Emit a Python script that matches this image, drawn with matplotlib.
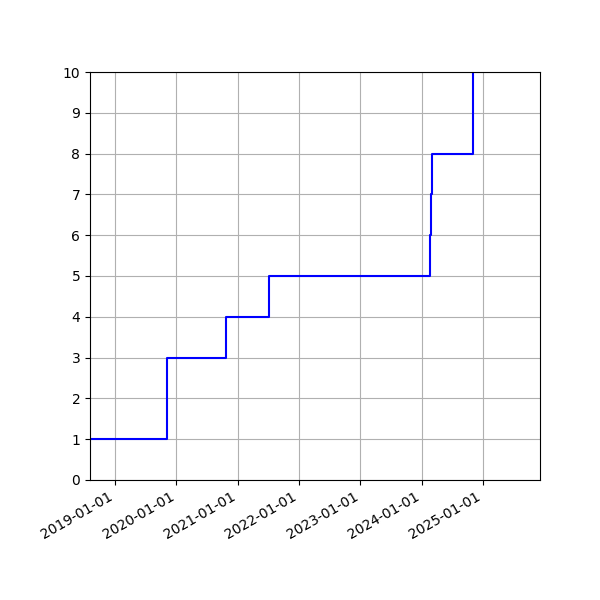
import numpy as np
import pandas as pd
import matplotlib
matplotlib.use('Agg')
import matplotlib.pyplot as plt
import matplotlib.dates as mdates

# Données
dates = pd.to_datetime([
    '2018-08-05', '2019-11-05', '2020-10-23', '2021-07-07',
    '2024-02-17', '2024-02-24', '2024-03-03', '2024-10-30',
])
counts = [1, 3, 4, 5, 6, 7, 8, 10]

x_min = pd.Timestamp('2018-08-05')
x_max = pd.Timestamp('2025-12-05')

fig, ax = plt.subplots(figsize=(6, 6), dpi=100)
ax.step(dates, counts, where='post', color='blue')

ax.set_xlim(x_min, x_max)
ax.set_ylim(0, 10)
ax.set_yticks(np.arange(0, 11, 1))
ax.xaxis.set_major_locator(mdates.YearLocator())
ax.xaxis.set_major_formatter(mdates.DateFormatter('%Y-%m-%d'))
ax.grid(True)

fig.autofmt_xdate()
fig.subplots_adjust(left=0.15)
fig.savefig('out.png')
